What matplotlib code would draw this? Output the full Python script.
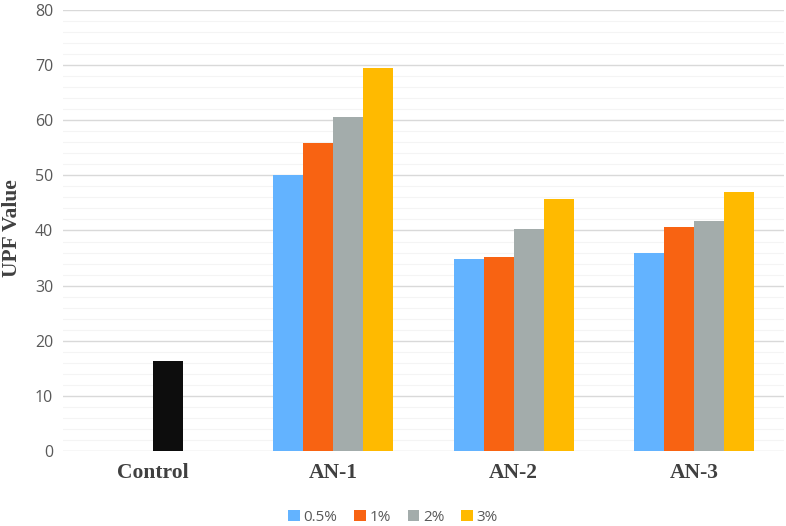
import numpy as np
import matplotlib
matplotlib.use('Agg')
import matplotlib.pyplot as plt
from matplotlib.ticker import MultipleLocator

# data
categories = ['Control', 'AN-1', 'AN-2', 'AN-3']
series_names = ['0.5%', '1%', '2%', '3%']
an_values = {
    '0.5%': [50.1, 34.8, 36.0],
    '1%': [55.9, 35.2, 40.6],
    '2%': [60.6, 40.3, 41.7],
    '3%': [69.5, 45.7, 47.0],
}
control_value = 16.3

colors = ['#63B3FF', '#F86312', '#A3ACAB', '#FFBA00']
control_color = '#0D0D0D'

fig = plt.figure(figsize=(7.86, 5.26), dpi=100)
ax = fig.add_axes([0.080, 0.1426, 0.9175, 0.8384])

width = 1 / 6
x = np.arange(len(categories))
offsets = (np.arange(4) - 1.5) * width

# control bar sits in the third slot
ax.bar(x[0] + offsets[2], control_value, width, color=control_color, zorder=3)

handles = []
for i, name in enumerate(series_names):
    h = ax.bar(x[1:] + offsets[i], an_values[name], width, color=colors[i],
               label=name, zorder=3)
    handles.append(h)

ax.set_xlim(-0.5, 3.5)
ax.set_ylim(0, 80)
ax.yaxis.set_major_locator(MultipleLocator(10))
ax.yaxis.set_minor_locator(MultipleLocator(2))
ax.grid(axis='y', which='major', color='#D9D9D9', linewidth=1.0, zorder=0)
ax.grid(axis='y', which='minor', color='#F4F4F4', linewidth=0.8, zorder=0)
ax.set_axisbelow(True)
for s in ax.spines.values():
    s.set_visible(False)
ax.tick_params(axis='both', which='both', length=0)
ax.tick_params(axis='y', labelsize=11.5, labelcolor='#595959', pad=7)
for lbl in ax.get_yticklabels():
    lbl.set_family('Open Sans')

ax.set_xticks(x)
ax.set_xticklabels(categories, fontfamily='Liberation Serif', fontweight='bold',
                   fontsize=15.5, color='#404040')
ax.tick_params(axis='x', pad=9)

# y label placed in figure coords so it is not clipped
fig.text(0.015, 0.566, 'UPF Value', rotation=90, ha='center', va='center',
         fontfamily='Liberation Serif', fontweight='bold', fontsize=15.5,
         color='#404040')

fig.legend(handles=handles, labels=series_names, loc='center',
           bbox_to_anchor=(0.5, 0.017), ncol=4, frameon=False,
           prop={'family': 'Open Sans', 'size': 11}, labelcolor='#595959',
           handlelength=0.75, handleheight=0.75, handletextpad=0.25,
           columnspacing=1.1, borderpad=0)

fig.savefig('out.png', dpi=100)
